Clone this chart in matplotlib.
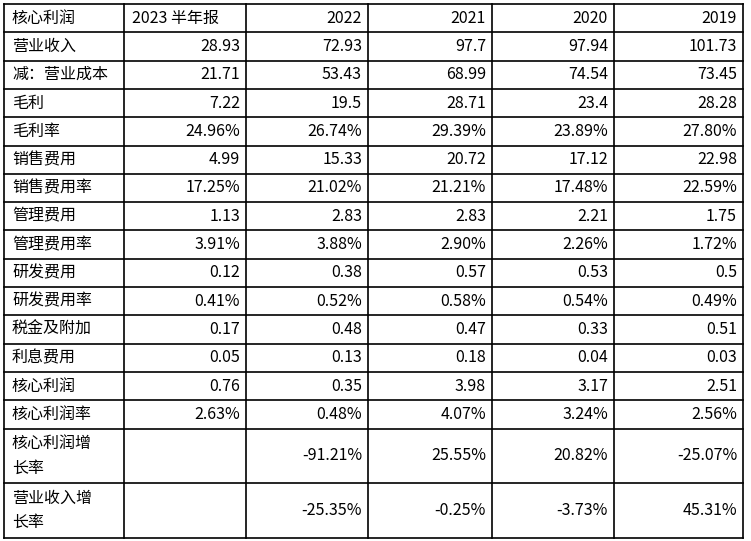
import matplotlib
matplotlib.use("Agg")
import matplotlib.pyplot as plt

header = ["核心利润", "2023 半年报", "2022", "2021", "2020", "2019"]
row_labels = ["营业收入", "减：营业成本", "毛利", "毛利率", "销售费用", "销售费用率",
              "管理费用", "管理费用率", "研发费用", "研发费用率", "税金及附加", "利息费用",
              "核心利润", "核心利润率", "核心利润增\n长率", "营业收入增\n长率"]
col_2023 = ["28.93", "21.71", "7.22", "24.96%", "4.99", "17.25%", "1.13", "3.91%", "0.12", "0.41%", "0.17", "0.05", "0.76", "2.63%", "", ""]
col_2022 = ["72.93", "53.43", "19.5", "26.74%", "15.33", "21.02%", "2.83", "3.88%", "0.38", "0.52%", "0.48", "0.13", "0.35", "0.48%", "-91.21%", "-25.35%"]
col_2021 = ["97.7", "68.99", "28.71", "29.39%", "20.72", "21.21%", "2.83", "2.90%", "0.57", "0.58%", "0.47", "0.18", "3.98", "4.07%", "25.55%", "-0.25%"]
col_2020 = ["97.94", "74.54", "23.4", "23.89%", "17.12", "17.48%", "2.21", "2.26%", "0.53", "0.54%", "0.33", "0.04", "3.17", "3.24%", "20.82%", "-3.73%"]
col_2019 = ["101.73", "73.45", "28.28", "27.80%", "22.98", "22.59%", "1.75", "1.72%", "0.5", "0.49%", "0.51", "0.03", "2.51", "2.56%", "-25.07%", "45.31%"]

W, H = 751, 541
fig = plt.figure(figsize=(W/100, H/100), dpi=100)
ax = fig.add_axes([0, 0, 1, 1])
ax.set_xlim(0, W); ax.set_ylim(H, 0); ax.axis("off")

xs = [4, 124, 246, 368, 492, 614, 743]
heights = [28.3] * 15 + [54.5, 54.5]
ys = [4]
for h in heights:
    ys.append(ys[-1] + h)

for x in xs:
    ax.plot([x, x], [ys[0], ys[-1]], color="black", lw=1.2)
for y in ys:
    ax.plot([xs[0], xs[-1]], [y, y], color="black", lw=1.2)

font = "Noto Sans CJK SC"
fs = 11.5
def cy(i):
    return (ys[i] + ys[i+1]) / 2

for j, h in enumerate(header):
    if j < 2:
        ax.text(xs[j] + 8, cy(0), h, ha="left", va="center", fontsize=fs, family=font)
    else:
        ax.text(xs[j+1] - 6, cy(0), h, ha="right", va="center", fontsize=fs, family=font)

cols = [col_2023, col_2022, col_2021, col_2020, col_2019]
for i, lab in enumerate(row_labels):
    r = i + 1
    ax.text(xs[0] + 8, cy(r), lab, ha="left", va="center", fontsize=fs, family=font, linespacing=1.6)
    for k, col in enumerate(cols):
        ax.text(xs[k+2] - 6, cy(r), col[i], ha="right", va="center", fontsize=fs, family=font)

fig.savefig("out.png", dpi=100, facecolor="white")
